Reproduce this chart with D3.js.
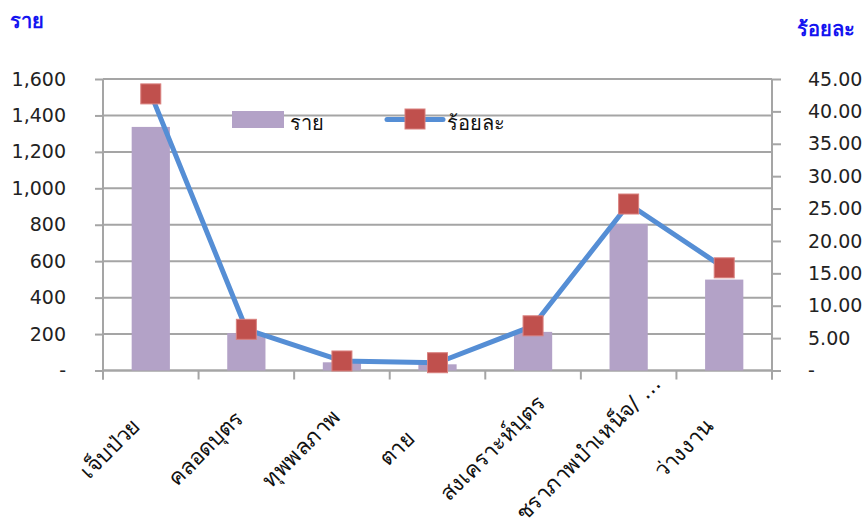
<!DOCTYPE html>
<html lang="th">
<head>
<meta charset="UTF-8">
<title>ราย / ร้อยละ</title>
<script src="https://cdn.jsdelivr.net/npm/d3@7"></script>
<style>
  body { margin: 0; background: #fff; }
  svg { display: block; font-family: Tahoma, "DejaVu Sans", "Noto Sans", sans-serif; }
</style>
</head>
<body>
<div id="chart"></div>
<script>
// data
var categories = ["เจ็บป่วย", "คลอดบุตร", "ทุพพลภาพ", "ตาย", "สงเคราะห์บุตร", "ชราภาพบำเหน็จ/ …", "ว่างงาน"];
var cases   = [1337, 205, 45, 34, 212, 805, 499];       // ราย (bars, left axis)
var percent = [42.7, 6.36, 1.47, 1.2, 6.9, 25.7, 15.85]; // ร้อยละ (line, right axis)
var leftTicks  = [0, 200, 400, 600, 800, 1000, 1200, 1400, 1600];
var rightTicks = [0, 5, 10, 15, 20, 25, 30, 35, 40, 45];

var W = 865, H = 525;
var plot = {left: 103, right: 772, top: 79, bottom: 370.5};

var svg = d3.select("#chart").append("svg")
  .attr("width", W).attr("height", H);

var x = d3.scaleBand()
  .domain(categories)
  .range([plot.left, plot.right])
  .padding(0);

var yL = d3.scaleLinear().domain([0, 1600]).range([plot.bottom, plot.top]);
var yR = d3.scaleLinear().domain([0, 45]).range([plot.bottom, plot.top]);

var gridColor = "#a5a5a5";

// gridlines
svg.append("g")
  .selectAll("line")
  .data(leftTicks)
  .enter().append("line")
    .attr("x1", plot.left).attr("x2", plot.right)
    .attr("y1", function(d) { return yL(d); })
    .attr("y2", function(d) { return yL(d); })
    .style("stroke", gridColor)
    .style("stroke-width", 2);

// left axis
var fmtLeft = function(d) { return d === 0 ? "-" : d3.format(",")(d); };
var gL = svg.append("g")
  .attr("transform", "translate(" + plot.left + ",0)")
  .call(d3.axisLeft(yL).tickValues(leftTicks).tickFormat(fmtLeft).tickSize(8).tickPadding(29));
gL.selectAll("line, path").style("stroke", gridColor).style("stroke-width", 2);
gL.select(".domain").attr("d", "M0," + (plot.top) + "V" + (plot.bottom + 9));
gL.selectAll("text").style("font-size", "19px").style("fill", "#222")
  .style("font-family", "'DejaVu Sans', sans-serif");

// right axis
var fmtRight = function(d) { return d === 0 ? "-" : d3.format(".2f")(d); };
var gR = svg.append("g")
  .attr("transform", "translate(" + plot.right + ",0)")
  .call(d3.axisRight(yR).tickValues(rightTicks).tickFormat(fmtRight).tickSize(9).tickPadding(27));
gR.selectAll("line, path").style("stroke", gridColor).style("stroke-width", 2);
gR.select(".domain").attr("d", "M0," + (plot.top) + "V" + (plot.bottom + 9));
gR.selectAll("text").style("font-size", "19px").style("fill", "#222")
  .style("font-family", "'DejaVu Sans', sans-serif");

// bottom axis (ticks at category boundaries)
var bounds = categories.map(function(c) { return x(c); }).concat([plot.right]);
svg.append("line")
  .attr("x1", plot.left).attr("x2", plot.right)
  .attr("y1", plot.bottom).attr("y2", plot.bottom)
  .style("stroke", gridColor).style("stroke-width", 2);
svg.append("g").selectAll("line")
  .data(bounds)
  .enter().append("line")
    .attr("x1", function(d) { return d; }).attr("x2", function(d) { return d; })
    .attr("y1", plot.bottom).attr("y2", plot.bottom + 9)
    .style("stroke", gridColor).style("stroke-width", 2);

// category labels, rotated
svg.append("g").selectAll("text")
  .data(categories)
  .enter().append("text")
    .attr("transform", function(d) {
      var cx = x(d) + x.bandwidth() / 2;
      return "translate(" + (cx - 40) + "," + (409 + 40) + ") rotate(-45)";
    })
    .attr("text-anchor", "middle")
    .attr("dy", "0.3em")
    .style("font-size", "22px")
    .style("fill", "#111")
    .text(function(d) { return d; });

// bars
var barW = x.bandwidth() * 0.4;
svg.append("g").selectAll("rect")
  .data(cases)
  .enter().append("rect")
    .attr("x", function(d, i) { return x(categories[i]) + (x.bandwidth() - barW) / 2; })
    .attr("y", function(d) { return yL(d); })
    .attr("width", barW)
    .attr("height", function(d) { return plot.bottom - yL(d); })
    .style("fill", "#b3a2c7");

// line
var line = d3.line()
  .x(function(d, i) { return x(categories[i]) + x.bandwidth() / 2; })
  .y(function(d) { return yR(d); });
svg.append("path")
  .datum(percent)
  .attr("d", line)
  .style("fill", "none")
  .style("stroke", "#558ed5")
  .style("stroke-width", 5)
  .style("stroke-linejoin", "round");

// markers
var mk = 20;
svg.append("g").selectAll("rect")
  .data(percent)
  .enter().append("rect")
    .attr("x", function(d, i) { return x(categories[i]) + x.bandwidth() / 2 - mk / 2; })
    .attr("y", function(d) { return yR(d) - mk / 2; })
    .attr("width", mk).attr("height", mk)
    .style("fill", "#c0504d")
    .style("stroke", "#d9807e")
    .style("stroke-width", 1);

// legend
var legend = svg.append("g");
legend.append("rect")
  .attr("x", 232).attr("y", 111).attr("width", 52).attr("height", 17)
  .style("fill", "#b3a2c7");
legend.append("text")
  .attr("x", 290).attr("y", 130)
  .style("font-size", "20px").style("fill", "#111")
  .text("ราย");
legend.append("line")
  .attr("x1", 387).attr("x2", 443).attr("y1", 119.5).attr("y2", 119.5)
  .style("stroke", "#558ed5").style("stroke-width", 5).style("stroke-linecap", "round");
legend.append("rect")
  .attr("x", 405).attr("y", 109).attr("width", mk).attr("height", mk)
  .style("fill", "#c0504d").style("stroke", "#d9807e");
legend.append("text")
  .attr("x", 447).attr("y", 130)
  .style("font-size", "20px").style("fill", "#111")
  .text("ร้อยละ");

// axis titles
svg.append("text")
  .attr("x", 10).attr("y", 28)
  .style("font-size", "20px").style("font-weight", "bold").style("fill", "#1414f0")
  .text("ราย");
svg.append("text")
  .attr("x", 797).attr("y", 36)
  .style("font-size", "20px").style("font-weight", "bold").style("fill", "#1414f0")
  .text("ร้อยละ");
</script>
</body>
</html>
